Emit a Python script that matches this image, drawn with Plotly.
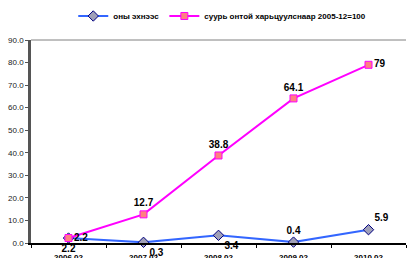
import plotly.graph_objects as go

categories = ["2006.02", "2007.02", "2008.02", "2009.02", "2010.02"]
ytd_values = [2.2, 0.3, 3.4, 0.4, 5.9]
base_values = [2.2, 12.7, 38.8, 64.1, 79]
ytd_name = "оны эхнээс"
base_name = "суурь онтой харьцуулснаар 2005-12=100"

ytd_pos = ["bottom center", "bottom right", "bottom right", "top center", "top right"]
base_pos = ["middle right", "top center", "top center", "top center", "middle right"]

fig = go.Figure()
fig.add_trace(go.Scatter(
    x=categories, y=ytd_values, name=ytd_name, mode="lines+markers+text",
    line=dict(color="#3366FF", width=2),
    marker=dict(symbol="diamond", size=8, color="#A0A0B8", line=dict(color="#000080", width=1)),
    text=[f"{v:g}" for v in ytd_values], textposition=ytd_pos,
    textfont=dict(family="Liberation Sans", size=10, color="#000000", weight="bold"),
    cliponaxis=False,
))
fig.add_trace(go.Scatter(
    x=categories, y=base_values, name=base_name, mode="lines+markers+text",
    line=dict(color="#FF00FF", width=2),
    marker=dict(symbol="square", size=7, color="#FF8080", line=dict(color="#FF00FF", width=1)),
    text=[f"{v:g}" for v in base_values], textposition=base_pos,
    textfont=dict(family="Liberation Sans", size=10, color="#000000", weight="bold"),
    cliponaxis=False,
))

fig.add_shape(type="line", xref="paper", yref="paper", x0=0, x1=1, y0=1, y1=1,
              line=dict(color="#808080", width=1))

fig.update_layout(
    width=408, height=258,
    margin=dict(l=31, r=2, t=40, b=15, autoexpand=False),
    paper_bgcolor="white", plot_bgcolor="white",
    font=dict(family="Liberation Sans", size=8, color="#222222"),
    showlegend=True,
    legend=dict(orientation="h", x=0.51, xanchor="center",
                yref="container", y=0.938, yanchor="middle",
                font=dict(size=8, weight="bold", color="#000000"),
                itemwidth=30, tracegroupgap=0),
    xaxis=dict(type="category", range=[-0.5, 4.5], showgrid=False,
               showline=True, linecolor="#000000", linewidth=1.5,
               ticks="outside", tickson="boundaries", ticklen=3, tickcolor="#000000",
               automargin=False, ticklabelstandoff=6,
               tickfont=dict(size=8, weight="bold", color="#000000")),
    yaxis=dict(range=[0, 90], dtick=10, tickformat=".1f", showgrid=False,
               showline=True, linecolor="#555555", linewidth=2.5,
               ticks="outside", ticklen=3, tickcolor="#555555",
               zeroline=False, automargin=False,
               tickfont=dict(size=8, color="#222222")),
)
fig.write_html("out.html", config={"displayModeBar": False},
               post_script="document.body.style.margin='0';")
